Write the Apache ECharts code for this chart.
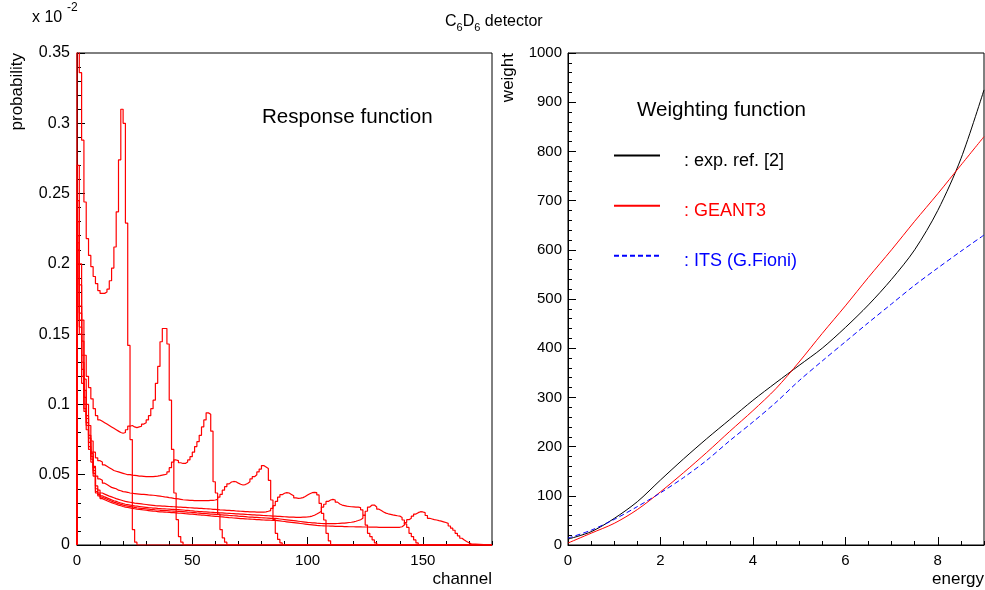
<!DOCTYPE html>
<html>
<head>
<meta charset="utf-8">
<title>C6D6 detector</title>
<script src="https://cdn.jsdelivr.net/npm/echarts@6/dist/echarts.min.js"></script>
<style>
  html, body { margin: 0; padding: 0; background: #fff; }
  #chart { width: 985px; height: 590px; }
</style>
</head>
<body>
<div id="chart"></div>
<script>
const FONT = '"Liberation Sans", Arial, Helvetica, sans-serif';

// response functions: probability per channel in units of 1e-2, value i = bin [i, i+1)
const hist1 = [0.42,0.336,0.288,0.244,0.218,0.206,0.198,0.191,0.186,0.181,
  0.179,0.179,0.180,0.182,0.188,0.197,0.212,0.237,0.274,0.310,
  0.300,0.229,0.142,0.075,0.011,0.002,0];

const hist2 = [0.27,0.20,0.16,0.135,0.12,0.112,0.104,0.097,0.092,0.089,
  0.088,0.087,0.086,0.085,0.084,0.083,0.082,0.081,0.080,0.0795,
  0.080,0.082,0.0845,0.085,0.084,0.0835,0.084,0.0845,0.086,0.087,
  0.089,0.092,0.097,0.103,0.115,0.127,0.1446,0.154,0.154,0.143,
  0.103,0.068,0.037,0.018,0.006,0.002,0];

const hist3 = [0.245,0.185,0.145,0.118,0.100,0.085,0.074,0.066,0.062,0.060,
  0.059,0.057,0.056,0.055,0.054,0.053,0.0525,0.052,0.0515,0.051,
  0.0505,0.050,0.050,0.0497,0.0495,0.0493,0.049,0.049,0.0488,0.0486,
  0.0486,0.0486,0.0486,0.0488,0.049,0.0493,0.0497,0.050,0.0505,0.052,
  0.055,0.059,0.0605,0.060,0.0585,0.058,0.058,0.059,0.0605,0.0628,
  0.066,0.070,0.0735,0.078,0.084,0.089,0.094,0.093,0.081,0.045,
  0.037,0.022,0.011,0.005,0.002,0];

const hist4 = [0.23,0.17,0.135,0.11,0.092,0.078,0.066,0.056,0.049,0.047,
  0.046,0.044,0.043,0.042,0.041,0.0405,0.040,0.039,0.0386,0.038,
  0.0378,0.0375,0.037,0.0368,0.0366,0.0364,0.0362,0.036,0.036,0.0358,
  0.0356,0.0355,0.0354,0.0352,0.035,0.0348,0.0345,0.0342,0.034,0.0337,
  0.0335,0.0332,0.033,0.0328,0.0325,0.0322,0.032,0.0319,0.0318,0.0317,
  0.0316,0.0316,0.0315,0.0315,0.0315,0.0315,0.0316,0.0317,0.0318,0.032,
  0.0325,0.034,0.036,0.039,0.0415,0.0435,0.0448,0.0452,0.045,0.044,
  0.0432,0.0427,0.043,0.0438,0.045,0.047,0.0486,0.050,0.052,0.054,
  0.0565,0.0555,0.0545,0.046,0.032,0.018,0.0083,0.004,0.0015,0];

const hist5 = [0.22,0.165,0.13,0.105,0.09,0.076,0.065,0.055,0.042,0.039,
  0.037,0.0362,0.0355,0.0348,0.0342,0.0336,0.033,0.0325,0.032,0.0315,
  0.031,0.0307,0.0304,0.0301,0.0298,0.0296,0.0294,0.0292,0.029,0.0288,
  0.0286,0.0284,0.0282,0.028,0.0279,0.0278,0.0277,0.0276,0.0275,0.0274,
  0.0273,0.0272,0.0271,0.027,0.0269,0.0268,0.0267,0.0266,0.0265,0.0264,
  0.0263,0.0262,0.0261,0.026,0.0259,0.0258,0.0257,0.0256,0.0254,0.0253,
  0.0252,0.025,0.0249,0.0248,0.0247,0.0246,0.0245,0.0244,0.0242,0.0241,
  0.024,0.0239,0.0238,0.0237,0.0236,0.0235,0.0235,0.0234,0.0234,0.0234,
  0.0234,0.0236,0.024,0.0245,0.026,0.028,0.031,0.034,0.0358,0.0368,
  0.0372,0.037,0.036,0.035,0.0335,0.0332,0.0333,0.0337,0.0345,0.0355,
  0.0365,0.0372,0.0375,0.0372,0.0356,0.0296,0.0225,0.0178,0.0083,0.003,
  0];

const hist6 = [0.215,0.16,0.125,0.1,0.087,0.073,0.063,0.053,0.040,0.037,
  0.035,0.0342,0.0335,0.0328,0.0321,0.0315,0.031,0.0304,0.0299,0.0294,
  0.029,0.0287,0.0284,0.0281,0.0278,0.0276,0.0274,0.0272,0.027,0.0268,
  0.0266,0.0265,0.0263,0.0262,0.026,0.0259,0.0258,0.0257,0.0256,0.0255,
  0.0254,0.0253,0.0252,0.0251,0.025,0.0249,0.0247,0.0246,0.0244,0.0243,
  0.0241,0.024,0.0238,0.0237,0.0236,0.0235,0.0234,0.0233,0.0232,0.0231,
  0.023,0.0229,0.0228,0.0227,0.0226,0.0225,0.0224,0.0223,0.0222,0.0221,
  0.022,0.0219,0.0218,0.0217,0.0216,0.0215,0.0214,0.0213,0.0212,0.0211,
  0.021,0.0209,0.0208,0.0207,0.0206,0.0205,0.0204,0.0203,0.0202,0.0201,
  0.020,0.0199,0.0198,0.0198,0.0197,0.0197,0.0197,0.0198,0.0199,0.020,
  0.0202,0.0206,0.0212,0.022,0.023,0.024,0.027,0.029,0.031,0.032,
  0.0325,0.032,0.0305,0.0292,0.0284,0.028,0.0276,0.0274,0.0272,0.0271,
  0.027,0.0269,0.0266,0.025,0.0213,0.0142,0.0083,0.006,0.0036,0.0015,
  0];

const hist7 = [0.21,0.155,0.12,0.097,0.085,0.07,0.061,0.051,0.038,0.036,
  0.034,0.0332,0.0325,0.0318,0.0311,0.0305,0.030,0.0294,0.0289,0.0284,
  0.028,0.0277,0.0274,0.0271,0.0268,0.0265,0.0263,0.0261,0.0259,0.0257,
  0.0255,0.0253,0.0252,0.025,0.0249,0.0247,0.0246,0.0245,0.0244,0.0243,
  0.0242,0.0241,0.024,0.0239,0.0238,0.0237,0.0236,0.0234,0.0233,0.0231,
  0.023,0.0228,0.0227,0.0225,0.0224,0.0223,0.0222,0.022,0.0219,0.0218,
  0.0217,0.0215,0.0214,0.0213,0.0212,0.021,0.0209,0.0208,0.0207,0.0205,
  0.0204,0.0203,0.0202,0.020,0.0199,0.0198,0.0197,0.0196,0.0195,0.0194,
  0.0193,0.0192,0.0191,0.019,0.019,0.0189,0.0187,0.0185,0.0183,0.0181,
  0.0179,0.0177,0.0175,0.0173,0.0171,0.0169,0.0167,0.0165,0.0163,0.0161,
  0.016,0.0158,0.0157,0.0155,0.0154,0.0153,0.0152,0.0152,0.0152,0.0152,
  0.0152,0.0152,0.0153,0.0154,0.0155,0.0156,0.0158,0.016,0.0162,0.0165,
  0.0169,0.0174,0.018,0.019,0.021,0.024,0.027,0.0284,0.0284,0.027,
  0.0255,0.0245,0.0235,0.0227,0.0222,0.0218,0.0214,0.0211,0.0208,0.0206,
  0.0195,0.0178,0.015,0.0125,0.0083,0.006,0.0036,0.0015,0];

const hist8 = [0.20,0.15,0.115,0.095,0.082,0.068,0.059,0.049,0.037,0.035,
  0.033,0.0322,0.0315,0.0308,0.0301,0.0295,0.029,0.0284,0.0279,0.0274,
  0.027,0.0267,0.0264,0.0261,0.0258,0.0255,0.0253,0.0251,0.0249,0.0247,
  0.0245,0.0243,0.0241,0.024,0.0238,0.0236,0.0235,0.0234,0.0233,0.0232,
  0.0231,0.023,0.0229,0.0227,0.0226,0.0225,0.0223,0.0222,0.022,0.0219,
  0.0218,0.0216,0.0215,0.0213,0.0212,0.021,0.0209,0.0207,0.0206,0.0204,
  0.0203,0.0201,0.020,0.0198,0.0197,0.0195,0.0194,0.0192,0.0191,0.019,
  0.0188,0.0187,0.0186,0.0185,0.0184,0.0183,0.0182,0.0181,0.018,0.0179,
  0.0178,0.0177,0.0177,0.0176,0.0175,0.0175,0.0173,0.0171,0.0169,0.0167,
  0.0165,0.0163,0.0161,0.0159,0.0157,0.0155,0.0153,0.0151,0.0149,0.0147,
  0.0145,0.0143,0.0141,0.0139,0.0138,0.0137,0.0136,0.0135,0.0135,0.0134,
  0.0134,0.0133,0.0133,0.0132,0.0132,0.0131,0.0131,0.013,0.013,0.013,
  0.0129,0.0129,0.0129,0.0128,0.0128,0.0128,0.0127,0.0127,0.0127,0.0127,
  0.0126,0.0126,0.0126,0.0126,0.0126,0.0126,0.0126,0.0126,0.0126,0.0126,
  0.013,0.0142,0.016,0.018,0.019,0.0205,0.022,0.023,0.0237,0.0235,
  0.023,0.021,0.019,0.0185,0.018,0.0178,0.0173,0.017,0.0165,0.016,
  0.0154,0.0135,0.012,0.0105,0.0083,0.0065,0.0048,0.0035,0.0025,0.0016,
  0.0008,0];

const responses = [hist1, hist2, hist3, hist4, hist5, hist6, hist7, hist8];

// weighting functions
const energy = [0, 0.5, 1, 1.5, 2, 2.5, 3, 3.5, 4, 4.5, 5, 5.5, 6, 6.5, 7, 7.5, 8, 8.5, 9];
const expRef = [12, 27, 54, 88, 132, 175, 216, 255, 294, 330, 365, 400, 442, 488, 540, 600, 680, 785, 925];
const geant3 = [4, 24, 44, 72, 108, 147, 188, 231, 273, 318, 372, 430, 486, 544, 600, 658, 714, 772, 830];
const its = [14, 30, 52, 78, 106, 137, 172, 212, 250, 290, 334, 374, 413, 452, 490, 528, 563, 597, 630];

function histData(values) {
  const pts = [[0, 0]];
  values.forEach((v, i) => pts.push([i, v]));
  pts.push([180, 0]);
  return pts;
}

function curveData(ys) {
  return energy.map((e, i) => [e, ys[i]]);
}

function txt(x, y, text, size, opts) {
  const o = opts || {};
  return {
    type: 'text', x: x, y: y, rotation: o.rotation || 0, silent: true,
    style: {
      text: text, fill: o.color || '#000', fontSize: size, fontFamily: FONT,
      align: o.align || 'left', textAlign: o.align || 'left',
      verticalAlign: 'middle', textVerticalAlign: 'middle'
    }
  };
}

const black = '#000';

function mainX(grid, max, interval) {
  return {
    type: 'value', gridIndex: grid, position: 'bottom', min: 0, max: max, interval: interval,
    axisLine: { lineStyle: { color: black, width: 1 } },
    axisTick: { inside: true, length: 8, lineStyle: { color: black } },
    axisLabel: { margin: 8, showMaxLabel: false, color: black, fontSize: 15, fontFamily: FONT },
    splitLine: { show: false }
  };
}
function minorX(grid, max, interval) {
  return {
    type: 'value', gridIndex: grid, position: 'bottom', min: 0, max: max, interval: interval,
    axisLine: { show: false },
    axisTick: { inside: true, length: 4, lineStyle: { color: black } },
    axisLabel: { show: false },
    splitLine: { show: false }
  };
}
function mainY(grid, max, interval, size, margin) {
  return {
    type: 'value', gridIndex: grid, min: 0, max: max, interval: interval,
    axisLine: { show: true, lineStyle: { color: black, width: 1 } },
    axisTick: { show: true, inside: true, length: 8, lineStyle: { color: black } },
    minorTick: { show: true, splitNumber: 5, length: 4, lineStyle: { color: black } },
    axisLabel: { margin: margin, color: black, fontSize: size, fontFamily: FONT, formatter: v => String(v) },
    splitLine: { show: false }
  };
}

const chart = echarts.init(document.getElementById('chart'), null, { renderer: 'canvas' });

const series = responses.map(h => ({
  type: 'line', xAxisIndex: 0, yAxisIndex: 0, data: histData(h),
  step: 'end', symbol: 'none', clip: true, silent: true,
  lineStyle: { color: '#ff0000', width: 1.2 }
}));

series.push(
  { name: 'exp. ref. [2]', type: 'line', xAxisIndex: 2, yAxisIndex: 1, data: curveData(expRef),
    smooth: 0.3, symbol: 'none', lineStyle: { color: '#000', width: 1 }, itemStyle: { color: '#000' } },
  { name: 'GEANT3', type: 'line', xAxisIndex: 2, yAxisIndex: 1, data: curveData(geant3),
    smooth: 0.3, symbol: 'none', lineStyle: { color: '#ff0000', width: 1 }, itemStyle: { color: '#ff0000' } },
  { name: 'ITS (G.Fioni)', type: 'line', xAxisIndex: 2, yAxisIndex: 1, data: curveData(its),
    smooth: 0.3, symbol: 'none', lineStyle: { color: '#0000ff', width: 1, type: [5, 3] }, itemStyle: { color: '#0000ff' } }
);

chart.setOption({
  animation: false,
  backgroundColor: '#fff',
  textStyle: { fontFamily: FONT },
  grid: [
    { left: 77, top: 53, width: 415, height: 492, show: true, borderColor: black, borderWidth: 1, backgroundColor: 'transparent' },
    { left: 568, top: 53, width: 416, height: 492, show: true, borderColor: black, borderWidth: 1, backgroundColor: 'transparent' }
  ],
  xAxis: [mainX(0, 180, 50), minorX(0, 180, 10), mainX(1, 9, 2), minorX(1, 9, 0.5)],
  yAxis: [mainY(0, 0.35, 0.05, 16, 7), mainY(1, 1000, 100, 15, 6)],
  legend: {
    orient: 'vertical', left: 613, top: 150, padding: 0,
    itemWidth: 46, itemHeight: 14, itemGap: 30.5,
    selectedMode: false,
    itemStyle: { opacity: 0 },
    formatter: name => '{t|: ' + name + '}',
    textStyle: {
      fontSize: 18, fontFamily: FONT,
      rich: { t: { fontSize: 18, fontFamily: FONT, padding: [10, 0, 0, 19] } }
    },
    data: [
      { name: 'exp. ref. [2]', textStyle: { color: '#000' } },
      { name: 'GEANT3', textStyle: { color: '#ff0000' } },
      { name: 'ITS (G.Fioni)', textStyle: { color: '#0000ff' } }
    ]
  },
  graphic: [
    txt(445, 22, 'C', 16),
    txt(456.6, 28, '6', 11),
    txt(462.7, 22, 'D', 16),
    txt(474.3, 28, '6', 11),
    txt(480.4, 22, ' detector', 16),
    txt(32, 18, 'x 10', 16),
    txt(67, 8, '-2', 12),
    txt(17, 53, 'probability', 17, { rotation: Math.PI / 2, align: 'right' }),
    txt(508, 53, 'weight', 17, { rotation: Math.PI / 2, align: 'right' }),
    txt(492, 579, 'channel', 17, { align: 'right' }),
    txt(984, 579, 'energy', 17, { align: 'right' }),
    txt(262, 117, 'Response function', 20.6),
    txt(637, 110, 'Weighting function', 20.6)
  ],
  series: series
});
</script>
</body>
</html>
